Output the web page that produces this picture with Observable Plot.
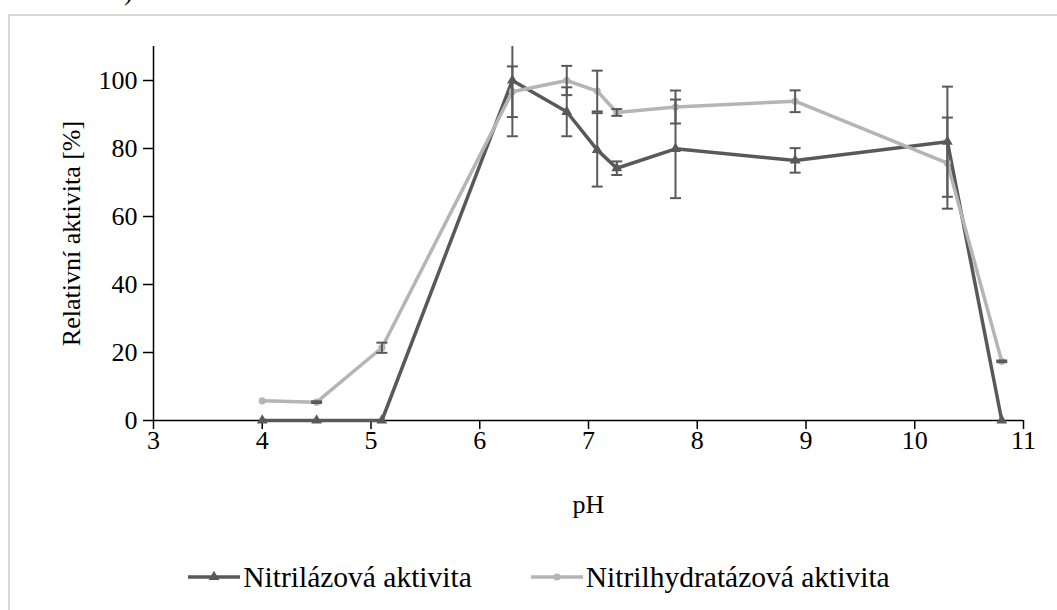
<!DOCTYPE html>
<html>
<head>
<meta charset="utf-8">
<script src="https://cdn.jsdelivr.net/npm/d3@7"></script>
<script src="https://cdn.jsdelivr.net/npm/@observablehq/plot@0.6"></script>
<style>
  html, body { margin: 0; padding: 0; background: #fff; overflow: hidden; }
  body { width: 1057px; height: 610px; position: relative; font-family: "Liberation Serif", serif; }
  #frame { position: absolute; left: 8px; top: 14px; width: 1100px; height: 700px;
           border-top: 2px solid #d9d9d9; border-left: 2px solid #d9d9d9; box-sizing: border-box; }
  #clipped { position: absolute; left: 124px; top: -21px; font-size: 26px; line-height: 26px; color: #000; }
  #chart { position: absolute; left: 0; top: 0; }
  #legend { position: absolute; left: 20px; top: 545px; width: 1037px; height: 64px;
            display: flex; justify-content: center; align-items: center; gap: 58px;
            font-size: 29.5px; color: #000; }
  .item { display: flex; align-items: center; }
  .item svg { margin-right: 2px; }
</style>
</head>
<body>
<div id="frame"></div>
<div id="clipped">)</div>
<div id="chart"></div>
<div id="legend"></div>
<script>
// pH values of the measured points
const pH = [4, 4.5, 5.1, 6.3, 6.8, 7.08, 7.26, 7.8, 8.9, 10.3, 10.8];

// Nitrilase activity (%) and its standard deviation
const nitrilazova    = [0, 0, 0, 100, 90.8, 79.6, 74.2, 79.9, 76.5, 82.0, 0];
const nitrilazovaErr = [0, 0, 0, 16.4, 7.2, 10.8, 2.0, 14.5, 3.6, 16.2, 0];

// Nitrile hydratase activity (%) and its standard deviation
const nitrilhydratazova    = [5.8, 5.4, 21.4, 96.7, 100, 96.9, 90.6, 92.2, 93.9, 75.7, 17.4];
const nitrilhydratazovaErr = [0, 0.25, 1.5, 7.45, 4.3, 6.0, 1.0, 4.85, 3.2, 13.4, 0.25];

const seriesNames = ["Nitrilázová aktivita", "Nitrilhydratázová aktivita"];
const xTicks = [3, 4, 5, 6, 7, 8, 9, 10, 11];
const yTicks = [0, 20, 40, 60, 80, 100];

const series = [
  {name: seriesNames[0], values: nitrilazova, err: nitrilazovaErr, color: "#595959", symbol: "triangle", r: 4.0},
  {name: seriesNames[1], values: nitrilhydratazova, err: nitrilhydratazovaErr, color: "#b5b5b5", symbol: "circle", r: 3.6}
];
const errColor = "#595959";

const rows = series.flatMap(s => pH.map((x, i) => ({x, y: s.values[i], e: s.err[i], name: s.name})));
const bars = rows.filter(d => d.e > 0);

// horizontal cap drawn as a custom symbol; half-width follows r
const cap = {
  draw(ctx, size) {
    const w = Math.sqrt(size / Math.PI);
    ctx.moveTo(-w, 0);
    ctx.lineTo(w, 0);
  }
};

const marks = [
  Plot.axisY({ticks: yTicks, tickSize: 10, tickPadding: 6, label: "Relativní aktivita [%]",
              labelAnchor: "center", labelArrow: "none", labelOffset: 92, strokeWidth: 1.5}),
  Plot.axisX({ticks: xTicks, tickSize: 9, tickPadding: 1, label: "pH",
              labelAnchor: "center", labelArrow: "none", labelOffset: 92, strokeWidth: 1.5}),
  Plot.ruleX([3], {stroke: "#000", strokeWidth: 1.5}),
  Plot.ruleY([0], {stroke: "#000", strokeWidth: 1.5})
];

for (const s of series) {
  const data = rows.filter(d => d.name === s.name);
  marks.push(Plot.line(data, {x: "x", y: "y", stroke: s.color, strokeWidth: 3.5}));
  marks.push(Plot.dot(data, {x: "x", y: "y", symbol: s.symbol, r: s.r, fill: s.color, stroke: "none"}));
}

marks.push(
  Plot.ruleX(bars, {x: "x", y1: d => d.y - d.e, y2: d => d.y + d.e, stroke: errColor, strokeWidth: 2, clip: true}),
  Plot.dot(bars, {x: "x", y: d => d.y + d.e, symbol: cap, r: 5.5, fill: "none", stroke: errColor, strokeWidth: 2, clip: true}),
  Plot.dot(bars, {x: "x", y: d => d.y - d.e, symbol: cap, r: 5.5, fill: "none", stroke: errColor, strokeWidth: 2, clip: true})
);

const chart = Plot.plot({
  width: 1057,
  height: 540,
  marginTop: 46,
  marginLeft: 153,
  marginRight: 34,
  marginBottom: 120,
  style: {fontFamily: "Liberation Serif, serif", fontSize: "26px", color: "#000", background: "transparent", overflow: "visible"},
  x: {domain: [3, 11]},
  y: {domain: [0, 110]},
  marks
});
document.getElementById("chart").append(chart);

// legend below the plot
const legend = d3.select("#legend");
for (const s of series) {
  const item = legend.append("div").attr("class", "item");
  const svg = item.append("svg").attr("width", 54).attr("height", 20);
  svg.append("line").attr("x1", 1).attr("x2", 53).attr("y1", 10).attr("y2", 10)
    .attr("stroke", s.color).attr("stroke-width", 3.5);
  const type = s.symbol === "triangle" ? d3.symbolTriangle : d3.symbolCircle;
  svg.append("path").attr("transform", "translate(27,10)")
    .attr("d", d3.symbol(type, Math.PI * s.r * s.r)()).attr("fill", s.color);
  item.append("span").text(s.name);
}
</script>
</body>
</html>
